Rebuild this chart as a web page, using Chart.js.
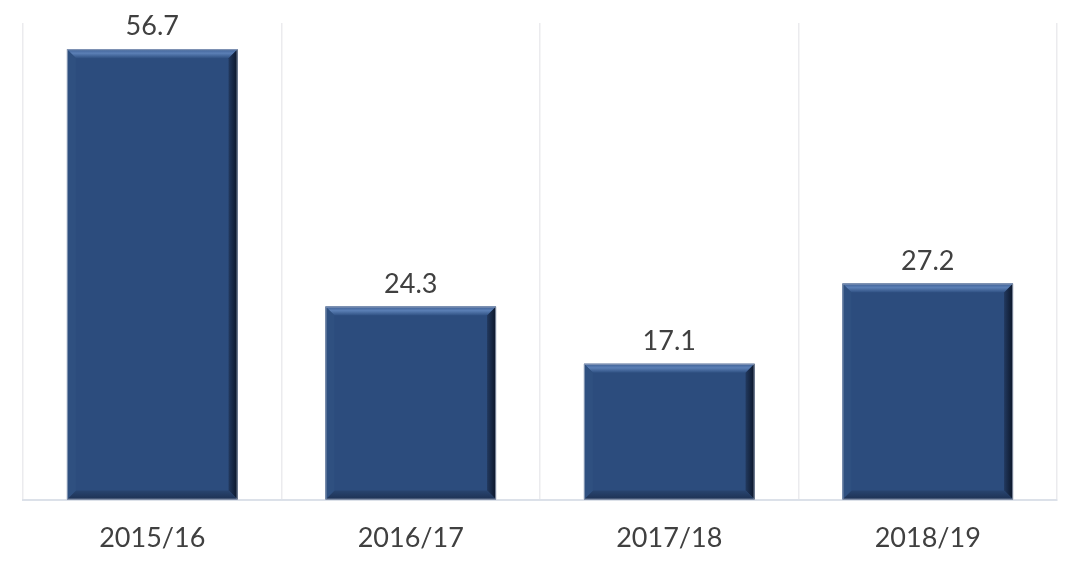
<!DOCTYPE html>
<html lang="en">
<head>
    <meta charset="UTF-8">
    <title>Bar chart</title>
    <style>
        html, body {
            margin: 0;
            background: #ffffff;
        }
        .chart-box {
            width: 1080px;
            height: 564px;
        }
    </style>
</head>
<body>
<div class="chart-box">
    <canvas id="barChart"></canvas>
</div>

<script src="https://cdn.jsdelivr.net/npm/chart.js"></script>
<script>
    const seasons = ['2015/16', '2016/17', '2017/18', '2018/19'];
    const values = [56.7, 24.3, 17.1, 27.2];
    const yMax = 60;

    // value labels above each bar
    const valueLabels = {
        id: 'valueLabels',
        afterDatasetsDraw(chart) {
            const ctx = chart.ctx;
            const meta = chart.getDatasetMeta(0);
            ctx.save();
            ctx.font = '27px Lato, sans-serif';
            ctx.fillStyle = '#404040';
            ctx.textAlign = 'center';
            ctx.textBaseline = 'bottom';
            meta.data.forEach((bar, i) => {
                ctx.fillText(values[i].toFixed(1), bar.x, bar.y - 9);
            });
            ctx.restore();
        }
    };

    // bevelled edges like the office chart style
    const bevel = {
        id: 'bevel',
        afterDatasetsDraw(chart) {
            const ctx = chart.ctx;
            const meta = chart.getDatasetMeta(0);
            const b = 9;
            ctx.save();
            meta.data.forEach(bar => {
                const l = bar.x - bar.width / 2;
                const r = bar.x + bar.width / 2;
                const t = bar.y;
                const btm = bar.base;

                // top
                let g = ctx.createLinearGradient(0, t, 0, t + b);
                g.addColorStop(0, '#3d5f94');
                g.addColorStop(0.45, '#5b7fb5');
                g.addColorStop(1, '#2f5082');
                ctx.fillStyle = g;
                ctx.beginPath();
                ctx.moveTo(l, t); ctx.lineTo(r, t); ctx.lineTo(r - b, t + b); ctx.lineTo(l + b, t + b);
                ctx.closePath(); ctx.fill();

                // right
                g = ctx.createLinearGradient(r - b, 0, r, 0);
                g.addColorStop(0, '#22395f');
                g.addColorStop(1, '#0b1528');
                ctx.fillStyle = g;
                ctx.beginPath();
                ctx.moveTo(r, t); ctx.lineTo(r, btm); ctx.lineTo(r - b, btm - b); ctx.lineTo(r - b, t + b);
                ctx.closePath(); ctx.fill();

                // bottom
                g = ctx.createLinearGradient(0, btm - b, 0, btm);
                g.addColorStop(0, '#28446f');
                g.addColorStop(1, '#1d3153');
                ctx.fillStyle = g;
                ctx.beginPath();
                ctx.moveTo(l, btm); ctx.lineTo(r, btm); ctx.lineTo(r - b, btm - b); ctx.lineTo(l + b, btm - b);
                ctx.closePath(); ctx.fill();

                // left
                ctx.fillStyle = '#2f5080';
                ctx.beginPath();
                ctx.moveTo(l, t); ctx.lineTo(l, btm); ctx.lineTo(l + b, btm - b); ctx.lineTo(l + b, t + b);
                ctx.closePath(); ctx.fill();

                // thin outline
                ctx.strokeStyle = 'rgba(170,180,200,0.7)';
                ctx.lineWidth = 1;
                ctx.strokeRect(l + 0.5, t + 0.5, r - l - 1, btm - t - 1);
            });
            ctx.restore();
        }
    };

    const barChart = new Chart(document.getElementById('barChart'), {
        type: 'bar',
        data: {
            labels: seasons,
            datasets: [{
                data: values,
                backgroundColor: '#2c4c7d',
                borderWidth: 0,
                categoryPercentage: 0.66,
                barPercentage: 1
            }]
        },
        options: {
            responsive: true,
            maintainAspectRatio: false,
            animation: false,
            layout: {
                padding: { left: 23, right: 23, top: 23, bottom: -12 }
            },
            plugins: {
                legend: { display: false },
                tooltip: { enabled: false }
            },
            scales: {
                x: {
                    grid: {
                        offset: true,
                        color: '#ebebee',
                        lineWidth: 1.5,
                        drawTicks: false
                    },
                    border: { color: '#dce1e9', width: 2 },
                    ticks: {
                        padding: 22,
                        color: '#404040',
                        font: { family: 'Lato, sans-serif', size: 27 }
                    }
                },
                y: {
                    display: false,
                    min: 0,
                    max: yMax
                }
            }
        },
        plugins: [bevel, valueLabels]
    });
</script>
</body>
</html>
